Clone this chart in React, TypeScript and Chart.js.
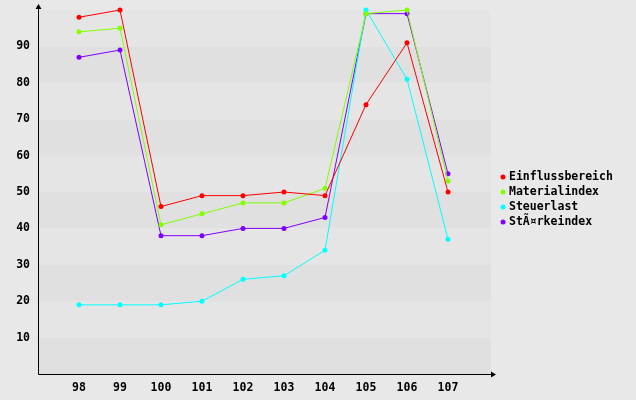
import React, { useEffect, useRef } from "react";
import { Chart, registerables } from "chart.js";

Chart.register(...registerables);

const categories = [98, 99, 100, 101, 102, 103, 104, 105, 106, 107];
const einflussbereich = [98, 100, 46, 49, 49, 50, 49, 74, 91, 50];
const materialindex = [94, 95, 41, 44, 47, 47, 51, 99, 100, 53];
const steuerlast = [19, 19, 19, 20, 26, 27, 34, 100, 81, 37];
const staerkeindex = [87, 89, 38, 38, 40, 40, 43, 99, 99, 55];
const yTicks = [10, 20, 30, 40, 50, 60, 70, 80, 90];

const seriesNames = ["Einflussbereich", "Materialindex", "Steuerlast", "StÃ¤rkeindex"];
const seriesColors = ["#ff0000", "#80ff00", "#00ffff", "#8000ff"];
const seriesValues = [einflussbereich, materialindex, steuerlast, staerkeindex];

const FONT = "bold 11.5px 'DejaVu Sans Mono', monospace";

const bandsPlugin = {
  id: "bands",
  beforeDatasetsDraw(chart: any) {
    const { ctx, chartArea, scales } = chart;
    const y = scales.y;
    ctx.save();
    for (let v = 0; v < 100; v += 10) {
      const top = y.getPixelForValue(v + 10);
      const bot = y.getPixelForValue(v);
      ctx.fillStyle = (v / 10) % 2 === 0 ? "#e0e0e0" : "#e5e5e5";
      ctx.fillRect(chartArea.left, top, chartArea.right + 2 - chartArea.left, bot - top);
    }
    ctx.restore();
  },
  afterDraw(chart: any) {
    const { ctx, chartArea } = chart;
    ctx.save();
    ctx.strokeStyle = "#000";
    ctx.fillStyle = "#000";
    ctx.lineWidth = 1;
    const L = Math.round(chartArea.left) + 0.5;
    const B = Math.round(chartArea.bottom) + 0.5;
    const T = chartArea.top - 5;
    const R = chartArea.right + 6;
    ctx.beginPath();
    ctx.moveTo(L, B);
    ctx.lineTo(L, T);
    ctx.moveTo(L, B);
    ctx.lineTo(R, B);
    ctx.stroke();
    ctx.beginPath();
    ctx.moveTo(L, T - 1);
    ctx.lineTo(L - 3, T + 4);
    ctx.lineTo(L + 3, T + 4);
    ctx.closePath();
    ctx.fill();
    ctx.beginPath();
    ctx.moveTo(R + 1, B);
    ctx.lineTo(R - 4, B - 3);
    ctx.lineTo(R - 4, B + 3);
    ctx.closePath();
    ctx.fill();

    // legend
    ctx.font = FONT;
    ctx.textBaseline = "middle";
    ctx.textAlign = "left";
    const lx = chartArea.right + 14;
    const ly = chartArea.top + 167;
    seriesNames.forEach((name, i) => {
      const yy = ly + i * 15;
      ctx.fillStyle = seriesColors[i];
      ctx.beginPath();
      ctx.arc(lx, yy, 2.5, 0, Math.PI * 2);
      ctx.fill();
      ctx.fillStyle = "#000";
      ctx.fillText(name, lx + 6, yy);
    });
    ctx.restore();
  },
};

export default function App() {
  const ref = useRef<HTMLCanvasElement>(null);
  useEffect(() => {
    document.body.style.margin = "0";
    document.body.style.background = "#e8e8e8";
    const chart = new Chart(ref.current!, {
      type: "line",
      data: {
        datasets: seriesNames.map((name, i) => ({
          label: name,
          data: categories.map((c, j) => ({ x: c, y: seriesValues[i][j] })),
          borderColor: seriesColors[i],
          backgroundColor: seriesColors[i],
          borderWidth: 1,
          pointRadius: 2.5,
          pointHoverRadius: 2.5,
          pointBorderWidth: 0,
          pointStyle: "circle",
          tension: 0,
          clip: false,
        })),
      },
      options: {
        responsive: false,
        animation: false,
        layout: { padding: { top: 10, right: 147, left: 0, bottom: 0 } },
        plugins: { legend: { display: false }, tooltip: { enabled: false } },
        scales: {
          x: {
            type: "linear",
            min: 97,
            max: 108,
            grid: { display: false, drawTicks: false },
            border: { display: false },
            afterBuildTicks: (s: any) => {
              s.ticks = categories.map((v) => ({ value: v }));
            },
            afterFit: (s: any) => {
              s.height = 26;
              s.paddingLeft = 0;
              s.paddingRight = 0;
            },
            ticks: {
              autoSkip: false,
              maxRotation: 0,
              padding: 7,
              color: "#000",
              font: { family: "'DejaVu Sans Mono', monospace", weight: "bold", size: 11.5 },
              callback: (v: any) => String(v),
            },
          },
          y: {
            type: "linear",
            min: 0,
            max: 100,
            grid: { display: false, drawTicks: false },
            border: { display: false },
            afterBuildTicks: (s: any) => {
              s.ticks = yTicks.map((v) => ({ value: v }));
            },
            afterFit: (s: any) => {
              s.width = 38;
              s.paddingTop = 0;
              s.paddingBottom = 0;
            },
            ticks: {
              padding: 8,
              color: "#000",
              font: { family: "'DejaVu Sans Mono', monospace", weight: "bold", size: 11.5 },
              callback: (v: any) => String(v),
            },
          },
        },
      },
      plugins: [bandsPlugin],
    } as any);
    return () => chart.destroy();
  }, []);
  return (
    <div style={{ width: 636, height: 400, background: "#e8e8e8" }}>
      <canvas ref={ref} width={636} height={400} />
    </div>
  );
}
